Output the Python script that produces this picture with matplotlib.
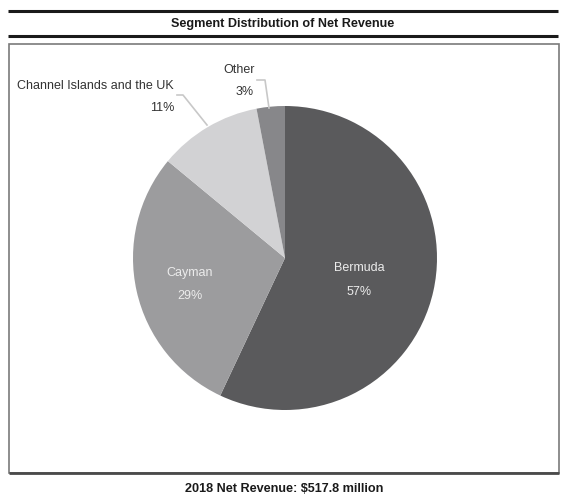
import matplotlib.pyplot as plt
from matplotlib.patches import Rectangle

# data
segments = ["Bermuda", "Cayman", "Channel Islands and the UK", "Other"]
shares = [57, 29, 11, 3]
pct_labels = ["57%", "29%", "11%", "3%"]
colors = ["#5a5a5c", "#9c9c9e", "#d2d2d4", "#87878a"]
title = "Segment Distribution of Net Revenue"
footer = "2018 Net Revenue: $517.8 million"

W, H = 572, 500
fig = plt.figure(figsize=(W / 100, H / 100), dpi=100)
ax = fig.add_axes([0, 0, 1, 1])

sans = ["Liberation Sans", "DejaVu Sans"]

def yy(y):
    # picture y (from top) -> axes y
    return H - y

# header rules and title
ax.plot([8, 558], [yy(11), yy(11)], color="#1a1a1a", lw=2.2, solid_capstyle="butt")
ax.plot([8, 558], [yy(36), yy(36)], color="#1a1a1a", lw=2.2, solid_capstyle="butt")
ax.text(283, yy(23.5), title, ha="center", va="center", fontsize=9.1,
        fontweight="bold", family=sans, color="#1a1a1a")

# frame
ax.add_patch(Rectangle((9, yy(473)), 550, 429, fill=False, ec="#7a7a7a", lw=1.2))
ax.plot([9, 559], [yy(473), yy(473)], color="#4a4a4a", lw=2.0, solid_capstyle="butt")

# pie
cx, cy, r = 285, yy(258), 152
ax.pie(shares, colors=colors, startangle=90, counterclock=False,
       center=(cx, cy), radius=r, frame=True,
       wedgeprops=dict(linewidth=0))
ax.set_xlim(0, W)
ax.set_ylim(0, H)
ax.axis("off")

# inside labels
inner = "#ececec"
ax.text(359, yy(268), segments[0], ha="center", va="center", fontsize=9,
        family=sans, color=inner)
ax.text(359, yy(292), pct_labels[0], ha="center", va="center", fontsize=9,
        family=sans, color=inner)
ax.text(190, yy(273), segments[1], ha="center", va="center", fontsize=9,
        family=sans, color=inner)
ax.text(190, yy(296), pct_labels[1], ha="center", va="center", fontsize=9,
        family=sans, color=inner)

# outside labels with leader lines
lc = "#c8c8c8"
ax.text(174, yy(86), segments[2], ha="right", va="center", fontsize=9,
        family=sans, color="#333333")
ax.text(174, yy(108), pct_labels[2], ha="right", va="center", fontsize=9,
        family=sans, color="#333333")
ax.plot([177, 183, 207], [yy(95), yy(95), yy(125)], color=lc, lw=1.2)

ax.text(239, yy(70), segments[3], ha="center", va="center", fontsize=9,
        family=sans, color="#333333")
ax.text(254, yy(92), pct_labels[3], ha="right", va="center", fontsize=9,
        family=sans, color="#333333")
ax.plot([257, 265, 269], [yy(80), yy(80), yy(108)], color=lc, lw=1.2)

# footer
ax.text(284, yy(489), footer, ha="center", va="center", fontsize=9.1,
        fontweight="bold", family=sans, color="#1a1a1a")

fig.savefig("out.png", dpi=100)
